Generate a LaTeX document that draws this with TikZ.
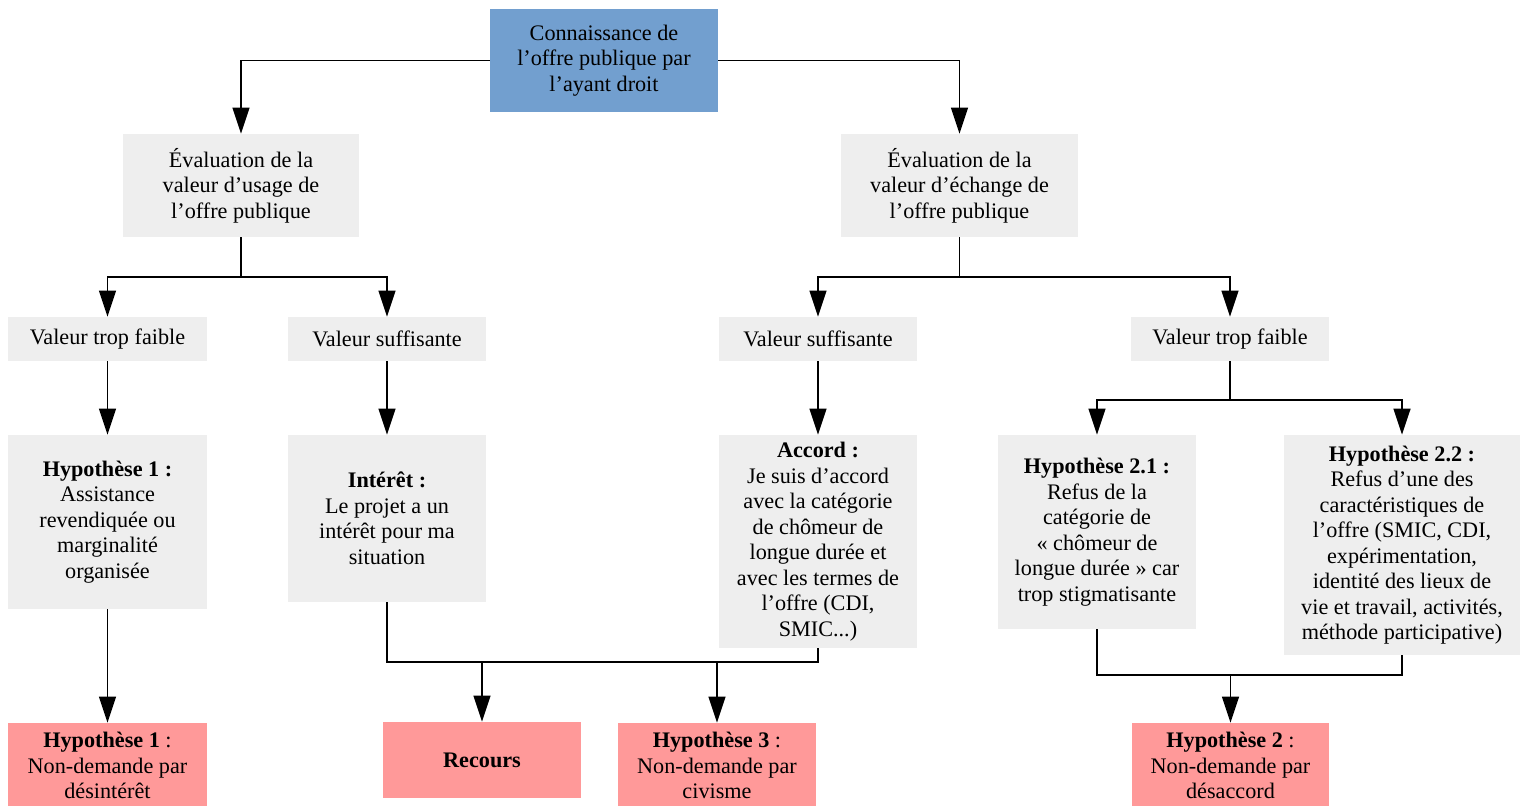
\documentclass[tikz,border=0pt]{standalone}
\usepackage{fontspec}
\setmainfont{Liberation Serif}
\usetikzlibrary{arrows.meta}
\definecolor{topblue}{RGB}{114,159,207}
\definecolor{boxgray}{RGB}{238,238,238}
\definecolor{boxred}{RGB}{255,153,153}
\tikzset{
  base/.style={inner sep=0pt, align=center, font=\fontsize{11.1}{12.75}\selectfont},
  graybox/.style={base, fill=boxgray},
  bluebox/.style={base, fill=topblue},
  redbox/.style={base, fill=boxred},
  conn/.style={line width=0.7pt},
  arr/.style={conn, -{Triangle[length=13pt,width=8.5pt]}},
}
\begin{document}
\begin{tikzpicture}[x=0.5pt,y=-0.5pt]
\useasboundingbox (0,0) rectangle (1524,805);
\clip (0,0) rectangle (1524,805);
% top
\node[bluebox, minimum width=114pt, minimum height=51.5pt] (top) at (604,60.5)
  {Connaissance de\\l’offre publique par\\l’ayant droit};
% level 2
\node[graybox, minimum width=118pt, minimum height=51.5pt] (evalU) at (241,185.5)
  {Évaluation de la\\valeur d’usage de\\l’offre publique};
\node[graybox, minimum width=118.5pt, minimum height=51.5pt] (evalE) at (959.5,185.5)
  {Évaluation de la\\valeur d’échange de\\l’offre publique};
% level 3
\node[graybox, minimum width=99.5pt, minimum height=22pt] (vtfL) at (107.5,339) {Valeur trop faible};
\node[graybox, minimum width=99pt, minimum height=22pt] (vsL) at (387,339) {Valeur suffisante};
\node[graybox, minimum width=99pt, minimum height=22pt] (vsR) at (818,339) {Valeur suffisante};
\node[graybox, minimum width=99pt, minimum height=22pt] (vtfR) at (1230,339) {Valeur trop faible};
% level 4
\node[graybox, minimum width=99.5pt, minimum height=87pt] (hyp1) at (107.5,522)
  {\textbf{Hypothèse 1 :}\\Assistance\\revendiquée ou\\marginalité\\organisée};
\node[graybox, minimum width=99pt, minimum height=83.5pt] (interet) at (387,518.5)
  {\textbf{Intérêt :}\\Le projet a un\\intérêt pour ma\\situation};
\node[graybox, minimum width=99pt, minimum height=106.5pt] (accord) at (818,541.5)
  {\textbf{Accord :}\\Je suis d’accord\\avec la catégorie\\de chômeur de\\longue durée et\\avec les termes de\\l’offre (CDI,\\SMIC...)};
\node[graybox, minimum width=99pt, minimum height=97pt] (hyp21) at (1097,532)
  {\textbf{Hypothèse 2.1 :}\\Refus de la\\catégorie de\\« chômeur de\\longue durée » car\\trop stigmatisante};
\node[graybox, minimum width=118pt, minimum height=110pt] (hyp22) at (1402,545)
  {\textbf{Hypothèse 2.2 :}\\Refus d’une des\\caractéristiques de\\l’offre (SMIC, CDI,\\expérimentation,\\identité des lieux de\\vie et travail, activités,\\méthode participative)};
% bottom
\node[redbox, minimum width=99.5pt, minimum height=42.5pt] (rh1) at (107.5,765.5)
  {\textbf{Hypothèse 1} :\\Non-demande par\\désintérêt};
\node[redbox, minimum width=99pt, minimum height=38pt] (recours) at (482,760)
  {\textbf{Recours}};
\node[redbox, minimum width=99pt, minimum height=42.5pt] (rh3) at (717,765.5)
  {\textbf{Hypothèse 3} :\\Non-demande par\\civisme};
\node[redbox, minimum width=98.5pt, minimum height=42.5pt] (rh2) at (1230.5,765.5)
  {\textbf{Hypothèse 2} :\\Non-demande par\\désaccord};
% junction coordinates
\coordinate (jU) at (241,277);
\coordinate (jE) at (959.5,277);
\coordinate (jR) at (1230,400);
\coordinate (jB) at (600,662);
\coordinate (jC) at (1250,675);
% connectors
\draw[arr] (top.west) -| (evalU.north);
\draw[arr] (top.east) -| (evalE.north);
\draw[conn] (evalU.south) -- (jU);
\draw[arr] (jU) -| (vtfL.north);
\draw[arr] (jU) -| (vsL.north);
\draw[conn] (evalE.south) -- (jE);
\draw[arr] (jE) -| (vsR.north);
\draw[arr] (jE) -| (vtfR.north);
\draw[arr] (vtfL.south) -- (hyp1.north);
\draw[arr] (vsL.south) -- (interet.north);
\draw[arr] (vsR.south) -- (accord.north);
\draw[conn] (vtfR.south) -- (jR);
\draw[arr] (jR) -| (hyp21.north);
\draw[arr] (jR) -| (hyp22.north);
\draw[arr] (hyp1.south) -- (rh1.north);
\draw[conn] (interet.south) |- (jB) -| (accord.south);
\draw[arr] (recours.north |- jB) -- (recours.north);
\draw[arr] (rh3.north |- jB) -- (rh3.north);
\draw[conn] (hyp21.south) |- (jC) -| (hyp22.south);
\draw[arr] (rh2.north |- jC) -- (rh2.north);
\end{tikzpicture}
\end{document}
